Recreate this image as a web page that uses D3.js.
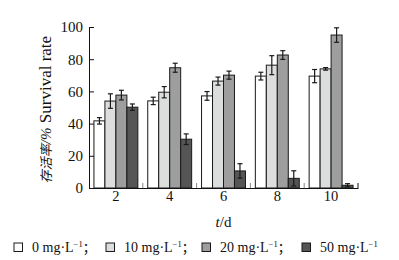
<!doctype html>
<html>
<head>
<meta charset="utf-8">
<title>Survival rate</title>
<style>
body { margin: 0; background: #fff; }
svg text { font-family: "Liberation Serif", "DejaVu Serif", serif; fill: #111; }
svg .cjk { font-family: "Noto Sans CJK SC", sans-serif; }
</style>
<script src="https://cdn.jsdelivr.net/npm/d3@7/dist/d3.min.js"></script>
</head>
<body>
<svg width="399" height="260"></svg>
<script>
var days = [2, 4, 6, 8, 10];
var series = ["0", "10", "20", "50"];
var colors = ["#ffffff", "#dcdedd", "#9e9e9e", "#555555"];
// survival rate (%) per day, one array per concentration
var rate0  = [41.7, 54.1, 57.2, 69.5, 69.5];
var rate10 = [54.0, 59.5, 66.4, 76.3, 74.0];
var rate20 = [57.7, 74.7, 70.1, 82.6, 95.0];
var rate50 = [50.2, 30.3, 10.6, 6.0, 1.7];
var err0  = [2.0, 2.3, 2.7, 2.4, 4.1];
var err10 = [4.5, 3.5, 2.5, 5.9, 0.8];
var err20 = [3.0, 2.8, 2.5, 2.7, 4.5];
var err50 = [2.0, 3.3, 4.5, 4.7, 1.0];
var yTicks = [0, 20, 40, 60, 80, 100];

var rates = [rate0, rate10, rate20, rate50];
var errs = [err0, err10, err20, err50];
var serif = "'Liberation Serif', 'DejaVu Serif', serif";

var svg = d3.select("svg"),
    margin = { top: 27, right: 41, bottom: 72, left: 89 },
    width = 399 - margin.left - margin.right,
    height = 260 - margin.top - margin.bottom,
    g = svg.append("g").attr("transform", "translate(" + margin.left + "," + margin.top + ")");

var x0 = d3.scaleBand().domain(days).range([0, width]).padding(0);
var x1 = d3.scaleBand().domain(series).range([0, x0.bandwidth()]).paddingInner(0).paddingOuter(0.45);
var y = d3.scaleLinear().domain([0, 100]).range([height, 0]);

var data = [];
days.forEach(function(d, i) {
    series.forEach(function(s, j) {
        data.push({ day: d, s: s, j: j, v: rates[j][i], e: errs[j][i] });
    });
});

// bars
g.selectAll("rect.bar")
    .data(data)
    .enter().append("rect")
    .attr("class", "bar")
    .attr("x", function(d) { return x0(d.day) + x1(d.s); })
    .attr("y", function(d) { return y(d.v); })
    .attr("width", x1.bandwidth())
    .attr("height", function(d) { return height - y(d.v); })
    .attr("fill", function(d) { return colors[d.j]; })
    .attr("stroke", "#1a1a1a")
    .attr("stroke-width", 1);

// error bars
var eb = g.selectAll("g.err")
    .data(data)
    .enter().append("g")
    .attr("class", "err")
    .attr("transform", function(d) { return "translate(" + (x0(d.day) + x1(d.s) + x1.bandwidth() / 2) + ",0)"; })
    .attr("stroke", "#1a1a1a")
    .attr("stroke-width", 1.2);
eb.append("line")
    .attr("y1", function(d) { return y(d.v + d.e); })
    .attr("y2", function(d) { return y(d.v - d.e); });
eb.append("line").attr("x1", -2.5).attr("x2", 2.5)
    .attr("y1", function(d) { return y(d.v + d.e); })
    .attr("y2", function(d) { return y(d.v + d.e); });
eb.append("line").attr("x1", -2.5).attr("x2", 2.5)
    .attr("y1", function(d) { return y(d.v - d.e); })
    .attr("y2", function(d) { return y(d.v - d.e); });

// y axis
var yAxis = g.append("g")
    .call(d3.axisLeft(y).tickValues(yTicks).tickSizeInner(-5).tickSizeOuter(0).tickPadding(6));
yAxis.attr("font-family", serif).attr("font-size", 15);
yAxis.select(".domain").attr("stroke", "#111");
yAxis.selectAll(".tick line").attr("stroke", "#111");
yAxis.selectAll("text").style("font-family", serif).style("font-size", "15px").attr("fill", "#111");

// x axis
var xAxis = g.append("g")
    .attr("transform", "translate(0," + height + ")")
    .call(d3.axisBottom(x0).tickSize(0).tickPadding(3));
xAxis.attr("font-family", serif).attr("font-size", 14);
xAxis.select(".domain").attr("stroke", "#111");
xAxis.selectAll("text").style("font-family", serif).style("font-size", "14.5px").attr("fill", "#111");
// group separator ticks
xAxis.selectAll("line.sep")
    .data(days.slice(1).concat(["end"]))
    .enter().append("line")
    .attr("class", "sep")
    .attr("x1", function(d) { return d === "end" ? width : x0(d); })
    .attr("x2", function(d) { return d === "end" ? width : x0(d); })
    .attr("y1", 0).attr("y2", -5)
    .attr("stroke", function(d) { return d === "end" ? "#111" : "#888"; });

// axis titles
var xt = svg.append("text")
    .attr("x", margin.left + width / 2)
    .attr("y", 227)
    .attr("text-anchor", "middle")
    .style("font-size", "15px");
xt.append("tspan").attr("font-style", "italic").text("t");
xt.append("tspan").text("/d");

var yt = svg.append("text")
    .attr("transform", "translate(51," + (margin.top + height / 2 + 2) + ") rotate(-90)")
    .attr("text-anchor", "middle")
    .style("font-size", "17px");
yt.append("tspan").attr("class", "cjk").attr("font-style", "italic").style("font-size", "13px").text("存活率");
yt.append("tspan").attr("font-style", "italic").style("font-size", "15px").text("/%");
yt.append("tspan").text(" Survival rate");

// legend
var legX = [14, 106, 202, 302];
var leg = svg.selectAll("g.leg")
    .data(series)
    .enter().append("g")
    .attr("class", "leg")
    .attr("transform", function(d, i) { return "translate(" + legX[i] + ",243)"; });
leg.append("rect")
    .attr("width", 8.5).attr("height", 8.5)
    .attr("fill", function(d, i) { return colors[i]; })
    .attr("stroke", "#1a1a1a");
var lt = leg.append("text")
    .attr("x", 18).attr("y", 9)
    .style("font-size", "14px");
lt.append("tspan").text(function(d) { return d + " mg\u00b7L"; });
lt.append("tspan").attr("dy", -5).style("font-size", "8.5px").text("\u22121");
lt.append("tspan").attr("dy", 5).attr("class", "cjk").style("font-size", "13px")
    .text(function(d, i) { return i < series.length - 1 ? "；" : ""; });
</script>
</body>
</html>
